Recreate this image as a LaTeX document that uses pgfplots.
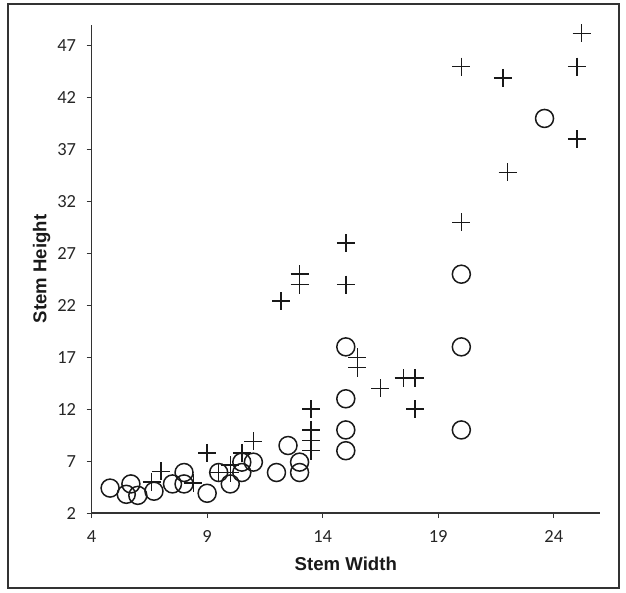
\documentclass[border=0pt]{standalone}
\usepackage{fontspec}
\setmainfont{Carlito}
\newfontfamily\labelfont{Liberation Sans}
\usepackage{pgfplots}
\pgfplotsset{compat=1.18}

\begin{document}
\begin{tikzpicture}
\begin{axis}[
  scale only axis,
  width=508.4pt, height=488pt,
  xmin=4, xmax=26, ymin=2, ymax=49,
  axis lines=left,
  axis line style={-, line width=1.3pt, black!80},
  xtick={4,9,14,19,24},
  ytick={2,7,12,17,22,27,32,37,42,47},
  tick align=outside,
  major tick length=5pt,
  tick style={line width=1pt, black!80},
  /pgf/number format/assume math mode=true,
  tick label style={font=\fontsize{18.5}{20}\selectfont, black!85},
  xticklabel style={yshift=-9pt},
  yticklabel style={xshift=-7pt},
  xlabel={Stem Width}, ylabel={Stem Height},
  every axis x label/.style={at={(axis description cs:0.5,0)}, anchor=center, yshift=-51pt,
    font=\labelfont\bfseries\fontsize{18.6}{21}\selectfont, black!90},
  every axis y label/.style={at={(axis description cs:0,0.5)}, anchor=center, xshift=-50pt, rotate=90,
    font=\labelfont\bfseries\fontsize{18.6}{21}\selectfont, black!90},
  clip=false,
]
% plus markers
\addplot[only marks, mark=+, mark size=9pt, black!90, mark options={line width=1.5pt}] coordinates {
  (6.6,5.0) (7.0,6.0) (8.4,4.9) (9.0,7.8) (9.5,5.9) (10.0,5.9) (10.0,6.6)
  (10.5,7.8) (11.0,8.9) (12.2,22.4) (13.0,25) (13.0,24) (13.5,12) (13.5,10)
  (13.5,9) (13.5,8) (15,28) (15,24) (15.5,17) (15.5,16) (16.5,14) (17.5,15)
  (18,15) (18,12) (20,45) (20,30) (21.8,43.9) (22,34.8) (25,45) (25.2,48.2) (25,38)};
% circle markers
\addplot[only marks, mark=o, mark size=9pt, black!90, mark options={line width=1.5pt}] coordinates {
  (4.8,4.4) (5.5,3.8) (5.7,4.8) (6.0,3.7) (6.7,4.1) (7.5,4.8) (8.0,5.9)
  (8.0,4.8) (9.0,3.9) (9.5,5.9) (10.0,4.8) (10.5,5.9) (10.5,6.9) (11.0,6.9)
  (12.0,5.9) (12.5,8.5) (13.0,6.9) (13.0,5.9) (15,18) (15,13) (15,10) (15,8)
  (20,25) (20,18) (20,10) (23.6,40)};
\end{axis}
\draw[line width=1.5pt, black!80] ([shift={(-83.6pt,-75pt)}]current axis.south west)
  rectangle ([shift={(527.4pt,509pt)}]current axis.south west);
\pgfresetboundingbox
\path ([shift={(-91.6pt,-79pt)}]current axis.south west)
  rectangle ([shift={(534.4pt,513pt)}]current axis.south west);
\end{tikzpicture}
\end{document}
